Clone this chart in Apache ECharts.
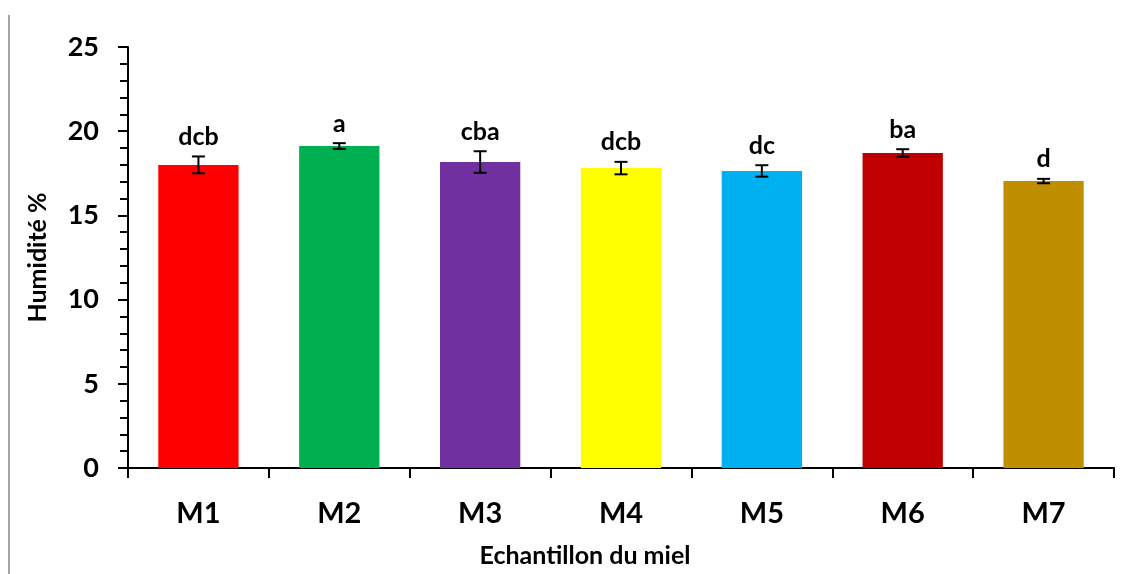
<!DOCTYPE html>
<html>
<head>
<meta charset="utf-8">
<script src="https://cdn.jsdelivr.net/npm/echarts@6/dist/echarts.min.js"></script>
<style>
  html, body { margin: 0; padding: 0; background: #fff; }
  #chart { width: 1131px; height: 574px; }
</style>
</head>
<body>
<div id="chart"></div>
<script>
  // data
  let samples = ['M1', 'M2', 'M3', 'M4', 'M5', 'M6', 'M7'];
  let humidity = [18.0, 19.12, 18.17, 17.81, 17.64, 18.71, 17.04];
  let errors = [0.5, 0.17, 0.64, 0.37, 0.34, 0.22, 0.13];
  let groups = ['dcb', 'a', 'cba', 'dcb', 'dc', 'ba', 'd'];
  let barColors = ['#ff0000', '#00b050', '#7030a0', '#ffff00', '#00b0f0', '#c00000', '#bf8f00'];

  let font = 'Lato, "Open Sans", sans-serif';
  let myChart = echarts.init(document.getElementById('chart'));

  let errData = humidity.map((v, i) => [i, v, errors[i]]);

  let option = {
    animation: false,
    backgroundColor: '#fff',
    grid: { left: 128, right: 17, top: 47, bottom: 106, outerBoundsMode: 'none' },
    graphic: [{
      type: 'line',
      shape: { x1: 9, y1: 15, x2: 9, y2: 574 },
      style: { stroke: '#a6a6a6', lineWidth: 2 }
    }],
    xAxis: {
      type: 'category',
      data: samples,
      name: 'Echantillon du miel',
      nameLocation: 'middle',
      nameGap: 75,
      nameTextStyle: { fontFamily: font, fontWeight: 'bold', fontSize: 25, color: '#000', padding: [0, 72, 0, 0] },
      axisLine: { lineStyle: { color: '#000', width: 2 } },
      axisTick: { show: true, alignWithLabel: false, length: 10, lineStyle: { color: '#000', width: 2 } },
      axisLabel: { fontFamily: font, fontWeight: 'bold', fontSize: 29, color: '#000', margin: 31 }
    },
    yAxis: {
      type: 'value',
      min: 0,
      max: 25,
      interval: 5,
      name: 'Humidité %',
      nameLocation: 'middle',
      nameGap: 78,
      nameTextStyle: { fontFamily: font, fontWeight: 'bold', fontSize: 25, color: '#000' },
      splitLine: { show: false },
      axisLine: { show: true, lineStyle: { color: '#000', width: 2 } },
      axisTick: { show: true, length: 10, lineStyle: { color: '#000', width: 2 } },
      minorTick: { show: true, splitNumber: 5, length: 8, lineStyle: { color: '#000', width: 2 } },
      axisLabel: { fontFamily: font, fontWeight: 'bold', fontSize: 27, color: '#000', margin: 29 }
    },
    series: [
      {
        type: 'bar',
        data: humidity.map((v, i) => ({ value: v, itemStyle: { color: barColors[i] } })),
        barCategoryGap: '43%'
      },
      {
        type: 'custom',
        data: errData,
        z: 10,
        renderItem: function (params, api) {
          let x = api.coord([api.value(0), 0])[0];
          let v = api.value(1), e = api.value(2);
          let top = api.coord([api.value(0), v + e])[1];
          let bot = api.coord([api.value(0), v - e])[1];
          let cap = 6.5;
          let style = { stroke: '#000', lineWidth: 2 };
          return {
            type: 'group',
            children: [
              { type: 'line', shape: { x1: x, y1: top, x2: x, y2: bot }, style: style },
              { type: 'line', shape: { x1: x - cap, y1: top, x2: x + cap, y2: top }, style: style },
              { type: 'line', shape: { x1: x - cap, y1: bot, x2: x + cap, y2: bot }, style: style },
              {
                type: 'text',
                style: {
                  text: groups[params.dataIndex],
                  x: x, y: top - 7,
                  align: 'center', verticalAlign: 'bottom',
                  font: 'bold 25px ' + font,
                  fill: '#000'
                }
              }
            ]
          };
        }
      }
    ]
  };
  myChart.setOption(option);
</script>
</body>
</html>
